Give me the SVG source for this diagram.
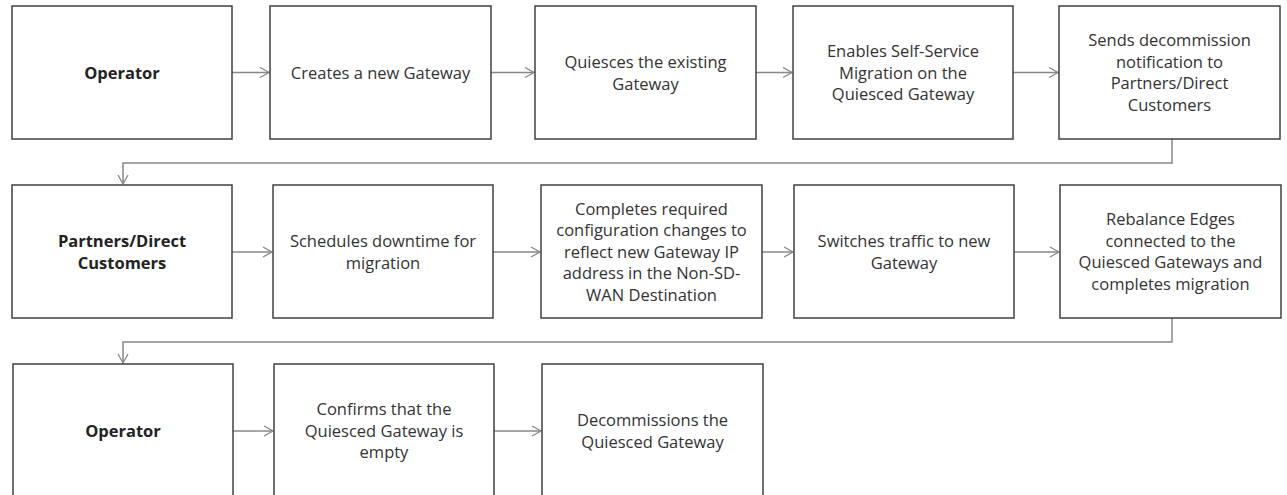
<svg xmlns="http://www.w3.org/2000/svg" width="1287" height="495" viewBox="0 0 1287 495">
<style>
.box{fill:#fff;stroke:#404040;stroke-width:1.5}
.t{font-family:"Open Sans","Liberation Sans",sans-serif;font-size:16.5px;fill:#333;text-anchor:middle}
.b{font-weight:bold;fill:#222}
.c{fill:none;stroke:#888;stroke-width:1.5}
</style>
<defs>
<marker id="ah" markerUnits="userSpaceOnUse" markerWidth="12" markerHeight="12" refX="10" refY="6" orient="auto">
<path d="M1,1 L10,6 L1,11" fill="none" stroke="#888" stroke-width="1.3"/>
</marker>
</defs>
<g id="connectors">
<path class="c" d="M232 72.5 H269" marker-end="url(#ah)"/>
<path class="c" d="M491 72.5 H534" marker-end="url(#ah)"/>
<path class="c" d="M756 72.5 H792" marker-end="url(#ah)"/>
<path class="c" d="M1013 72.5 H1058" marker-end="url(#ah)"/>
<path class="c" d="M1172 139 V163 H123 V184" marker-end="url(#ah)"/>
<path class="c" d="M232 252 H272" marker-end="url(#ah)"/>
<path class="c" d="M493 252 H540" marker-end="url(#ah)"/>
<path class="c" d="M762 252 H793" marker-end="url(#ah)"/>
<path class="c" d="M1014 252 H1059" marker-end="url(#ah)"/>
<path class="c" d="M1172 318 V342 H123 V363" marker-end="url(#ah)"/>
<path class="c" d="M233 431 H273" marker-end="url(#ah)"/>
<path class="c" d="M494 431 H541" marker-end="url(#ah)"/>
</g>
<g id="n1"><rect class="box" x="12" y="6" width="220" height="133"/><text class="t b" x="122" y="78.5">Operator</text></g>
<g id="n2"><rect class="box" x="270" y="6" width="221" height="133"/><text class="t" x="380.5" y="78.5">Creates a new Gateway</text></g>
<g id="n3"><rect class="box" x="535" y="6" width="221" height="133"/><text class="t" x="645.5" y="68"><tspan x="645.5">Quiesces the existing</tspan><tspan x="645.5" dy="21.5">Gateway</tspan></text></g>
<g id="n4"><rect class="box" x="793" y="6" width="220" height="133"/><text class="t" x="903" y="57"><tspan x="903">Enables Self-Service</tspan><tspan x="903" dy="21.5">Migration on the</tspan><tspan x="903" dy="21.5">Quiesced Gateway</tspan></text></g>
<g id="n5"><rect class="box" x="1059" y="6" width="221" height="133"/><text class="t" x="1169.5" y="46.3"><tspan x="1169.5">Sends decommission</tspan><tspan x="1169.5" dy="21.5">notification to</tspan><tspan x="1169.5" dy="21.5">Partners/Direct</tspan><tspan x="1169.5" dy="21.5">Customers</tspan></text></g>
<g id="n6"><rect class="box" x="12" y="185" width="220" height="133"/><text class="t b" x="122" y="247"><tspan x="122">Partners/Direct</tspan><tspan x="122" dy="21.5">Customers</tspan></text></g>
<g id="n7"><rect class="box" x="273" y="185" width="220" height="133"/><text class="t" x="383" y="247"><tspan x="383">Schedules downtime for</tspan><tspan x="383" dy="21.5">migration</tspan></text></g>
<g id="n8"><rect class="box" x="541" y="185" width="221" height="133"/><text class="t" x="651.5" y="214.5"><tspan x="651.5">Completes required</tspan><tspan x="651.5" dy="21.5">configuration changes to</tspan><tspan x="651.5" dy="21.5">reflect new Gateway IP</tspan><tspan x="651.5" dy="21.5">address in the Non-SD-</tspan><tspan x="651.5" dy="21.5">WAN Destination</tspan></text></g>
<g id="n9"><rect class="box" x="794" y="185" width="220" height="133"/><text class="t" x="904" y="247"><tspan x="904">Switches traffic to new</tspan><tspan x="904" dy="21.5">Gateway</tspan></text></g>
<g id="n10"><rect class="box" x="1060" y="185" width="221" height="133"/><text class="t" x="1170.5" y="225.3"><tspan x="1170.5">Rebalance Edges</tspan><tspan x="1170.5" dy="21.5">connected to the</tspan><tspan x="1170.5" dy="21.5">Quiesced Gateways and</tspan><tspan x="1170.5" dy="21.5">completes migration</tspan></text></g>
<g id="n11"><rect class="box" x="13" y="364" width="220" height="133"/><text class="t b" x="123" y="436.5">Operator</text></g>
<g id="n12"><rect class="box" x="274" y="364" width="220" height="133"/><text class="t" x="384" y="415"><tspan x="384">Confirms that the</tspan><tspan x="384" dy="21.5">Quiesced Gateway is</tspan><tspan x="384" dy="21.5">empty</tspan></text></g>
<g id="n13"><rect class="box" x="542" y="364" width="221" height="133"/><text class="t" x="652.5" y="426"><tspan x="652.5">Decommissions the</tspan><tspan x="652.5" dy="21.5">Quiesced Gateway</tspan></text></g>
</svg>
